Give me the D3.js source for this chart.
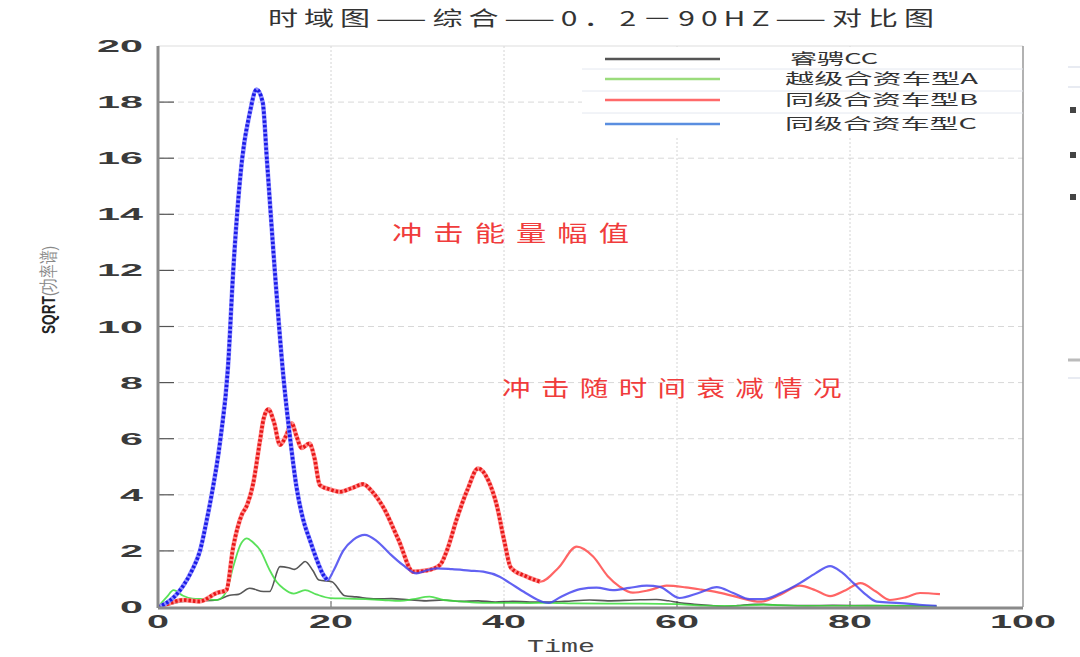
<!DOCTYPE html>
<html>
<head>
<meta charset="utf-8">
<script src="https://cdn.jsdelivr.net/npm/d3@7"></script>
<style>
body { margin: 0; background: #fff; }
svg { display: block; }
</style>
</head>
<body>
<svg id="chart" width="1080" height="657"></svg>
<script>
var width = 1080, height = 657

// series: time points and values
var tC = [0,1,2,2.9,4,4.85,5.7,6.2,7.2,8.1,8.7,9.7,10.6,11.4,12.1,12.6,13.5,14.5,15.3,16.0,16.8,17.6,18.4,19.1,19.6,20.3,21.4,22.6,23.9,25.3,26.8,28.3,29.9,31,32.2,34,36,37.6,39.5,40.7,42.5,44.5,45.2,46.5,48.8,50.7,52.6,54.5,56.5,58.0,60.3,62.5,64.6,66.5,68.4,70,72,74.2,76,77.7,79,80.4,81.8,83.1,85.8,88,90]
var vC = [0,0.15,0.4,0.75,1.35,2.0,3.2,4.0,5.95,8.6,12.0,15.9,17.6,18.45,18.0,15.9,12.0,8.2,5.95,4.3,3.1,2.35,1.65,1.15,0.96,1.3,2.0,2.4,2.57,2.35,1.9,1.5,1.2,1.3,1.38,1.35,1.3,1.26,1.08,0.85,0.5,0.18,0.15,0.35,0.64,0.69,0.6,0.68,0.76,0.72,0.32,0.5,0.71,0.5,0.28,0.28,0.5,0.85,1.2,1.46,1.25,0.85,0.45,0.19,0.14,0.08,0.04]

var tB = [0,1,2.9,4.8,6.8,7.9,8.7,9.7,10.25,11,11.8,12.2,12.75,13.4,14.1,14.8,15.45,16.0,16.6,17.5,18.1,18.7,19.8,21.0,22.5,23.7,24.8,26.0,27.8,29.5,31,32.6,33.5,34.5,35.8,37.0,38.2,39.2,40.0,40.8,42.5,44.2,46.3,48.4,50.3,52,53.4,54.9,56.8,58.8,61,62.8,64.6,67,69.6,72,74.2,76,77.7,79.5,81.2,83,84.6,86.5,88.1,90.4]
var vB = [0,0.1,0.25,0.2,0.5,0.6,2.15,3.3,3.6,4.4,5.95,6.7,7.05,6.6,5.78,6.1,6.55,6.1,5.67,5.83,5.3,4.35,4.2,4.11,4.25,4.38,4.1,3.58,2.4,1.26,1.3,1.5,2.1,3.1,4.2,4.94,4.5,3.58,2.4,1.4,1.1,0.9,1.4,2.15,1.8,1.1,0.72,0.51,0.6,0.76,0.7,0.62,0.53,0.35,0.19,0.45,0.76,0.6,0.39,0.6,0.85,0.55,0.25,0.35,0.5,0.46]

var tA = [0,1,1.8,2.9,4,5.5,6.8,7.9,8.7,9.5,10.25,11,11.8,12.9,13.7,14.5,15.7,17.0,18.3,19.9,22,24,26,28,29.5,31.4,33,35,37.6,40,43,45,48,52,56,60,63,66,70,75,80,85,90]
var vA = [0,0.35,0.6,0.4,0.3,0.28,0.25,0.55,1.44,2.2,2.45,2.3,2.03,1.32,0.9,0.66,0.48,0.6,0.45,0.32,0.3,0.28,0.25,0.22,0.28,0.37,0.25,0.2,0.15,0.15,0.14,0.15,0.13,0.12,0.12,0.1,0.05,0.04,0.08,0.04,0.04,0.05,0.02]

var tCC = [0,1.5,2.9,5,6.8,8.3,9.3,10.6,12.2,12.9,14.1,15.1,15.8,16.5,17.0,17.9,18.6,20.1,21.6,22.9,25.2,27,29,31,33,35,37,39,41,43,45,47,49.9,52,55,57.6,59,60.3,62,64,65.5,67,69,70,72,75,78,82,86,90]
var vCC = [0,0.1,0.2,0.22,0.25,0.42,0.45,0.67,0.55,0.55,1.44,1.4,1.34,1.5,1.62,1.3,0.96,0.9,0.4,0.36,0.29,0.3,0.26,0.22,0.25,0.2,0.22,0.18,0.2,0.18,0.18,0.2,0.25,0.22,0.25,0.27,0.22,0.15,0.1,0.05,0.02,0.05,0.1,0.1,0.06,0.05,0.06,0.05,0.04,0.03]

var names = ["睿骋CC", "越级合资车型A", "同级合资车型B", "同级合资车型C"]
var xTicks = [0, 20, 40, 60, 80, 100]
var yTicks = [0, 2, 4, 6, 8, 10, 12, 14, 16, 18, 20]

var series = [
    {name: names[0], t: tCC, v: vCC, color: "#3a3a3a", key: "#555", w: 1.6},
    {name: names[1], t: tA, v: vA, color: "#3cdc3c", key: "#9bdc7c", w: 1.8},
    {name: names[2], t: tB, v: vB, color: "#ff4a4a", key: "#ff6a6a", w: 2.2, heavyTo: 45, dark: "#e81818", light: "#ff8c8c"},
    {name: names[3], t: tC, v: vC, color: "#4646f0", key: "#5a8ee0", w: 2.2, heavyTo: 20, dark: "#1a1ae8", light: "#8c8cff"}
]

var pLeft = 158, pRight = 1023, pTop = 46, pBottom = 607

var x = d3.scaleLinear().domain([0, 100]).range([pLeft, pRight])
var y = d3.scaleLinear().domain([0, 20]).range([pBottom, pTop])

var svg = d3.select("#chart")

// the picture is stretched sideways, so the texts are too
function stretch(sel, len) {
    return sel.attr("textLength", len).attr("lengthAdjust", "spacingAndGlyphs")
}

// title
stretch(svg.append("text")
    .attr("x", 268).attr("y", 26)
    .attr("font-family", "Noto Sans CJK SC")
    .attr("font-size", 20)
    .attr("letter-spacing", 4)
    .attr("fill", "#333")
    .text("时域图——综合——0．2－90HZ——对比图"), 672)

// grid
var grid = svg.append("g")
grid.selectAll(".hg")
    .data(yTicks.slice(1, -1))
    .enter().append("line")
        .attr("x1", pLeft).attr("x2", pRight)
        .attr("y1", d => y(d)).attr("y2", d => y(d))
        .attr("stroke", "#d8d8d8")
        .attr("stroke-dasharray", "6,4")
grid.selectAll(".vg")
    .data(xTicks.slice(1, -1))
    .enter().append("line")
        .attr("x1", d => x(d)).attr("x2", d => x(d))
        .attr("y1", pTop).attr("y2", pBottom)
        .attr("stroke", "#d4d4d4")
        .attr("stroke-dasharray", "2,2")

// tick marks
svg.append("g").selectAll("line")
    .data(yTicks.slice(1, -1))
    .enter().append("line")
        .attr("x1", pLeft).attr("x2", pLeft + 16)
        .attr("y1", d => y(d)).attr("y2", d => y(d))
        .attr("stroke", "#555").attr("stroke-width", 1.2)
svg.append("g").selectAll("line")
    .data(xTicks.slice(1, -1))
    .enter().append("line")
        .attr("x1", d => x(d)).attr("x2", d => x(d))
        .attr("y1", pBottom).attr("y2", pBottom - 6)
        .attr("stroke", "#777").attr("stroke-width", 1.2)

// frame
svg.append("line").attr("x1", pLeft).attr("x2", pRight).attr("y1", pTop).attr("y2", pTop)
    .attr("stroke", "#ddd")
svg.append("line").attr("x1", pRight).attr("x2", pRight).attr("y1", pTop).attr("y2", pBottom)
    .attr("stroke", "#999").attr("stroke-width", 1.5)

// lines
var line = d3.line()
    .x(d => x(d[0]))
    .y(d => y(d[1]))
    .curve(d3.curveMonotoneX)

var plot = svg.append("g")
series.forEach(function(s) {
    var pts = s.t.map((t, i) => [t, s.v[i]])
    plot.append("path")
        .attr("d", line(pts))
        .attr("fill", "none")
        .attr("stroke", s.color)
        .attr("stroke-width", s.w)
        .attr("stroke-opacity", 0.85)
    if (s.heavyTo) {
        var heavy = pts.filter(d => d[0] <= s.heavyTo)
        plot.append("path")
            .attr("d", line(heavy))
            .attr("fill", "none")
            .attr("stroke", s.light)
            .attr("stroke-width", 4.5)
        plot.append("path")
            .attr("d", line(heavy))
            .attr("fill", "none")
            .attr("stroke", s.dark)
            .attr("stroke-width", 3.6)
            .attr("stroke-dasharray", "2.5,2")
    }
})

// axes lines (thick grey)
svg.append("line").attr("x1", pLeft).attr("x2", pLeft).attr("y1", pTop).attr("y2", pBottom + 1)
    .attr("stroke", "#8a8a8a").attr("stroke-width", 3)
svg.append("line").attr("x1", pLeft).attr("x2", pRight).attr("y1", pBottom + 1).attr("y2", pBottom + 1)
    .attr("stroke", "#8a8a8a").attr("stroke-width", 3)

// tick labels
svg.append("g").selectAll("text")
    .data(yTicks)
    .enter().append("text")
        .attr("x", d => 143 - String(d).length * 23).attr("y", d => y(d) + 6)
        .attr("textLength", d => String(d).length * 23)
        .attr("lengthAdjust", "spacingAndGlyphs")
        .attr("font-family", "Liberation Sans")
        .attr("font-weight", "bold")
        .attr("font-size", 17)
        .attr("fill", "#3a3a3a")
        .text(d => d)
svg.append("g").selectAll("text")
    .data(xTicks)
    .enter().append("text")
        .attr("x", d => x(d) - String(d).length * 11).attr("y", 628)
        .attr("textLength", d => String(d).length * 22)
        .attr("lengthAdjust", "spacingAndGlyphs")
        .attr("font-family", "Liberation Sans")
        .attr("font-weight", "bold")
        .attr("font-size", 18)
        .attr("fill", "#3a3a3a")
        .text(d => d)

// axis titles
stretch(svg.append("text")
    .attr("x", 527).attr("y", 652)
    .attr("font-family", "Liberation Mono")
    .attr("font-size", 18)
    .attr("fill", "#444")
    .text("Time"), 68)

var yl = stretch(svg.append("text")
    .attr("transform", "translate(55,334) rotate(-90)")
    .attr("font-family", "Liberation Sans")
    .attr("font-size", 19)
    .attr("fill", "#222"), 88)
yl.append("tspan").attr("font-weight", "bold").text("SQRT")
yl.append("tspan").attr("fill", "#888").text("(功率谱)")

// annotations
stretch(svg.append("text")
    .attr("x", 392).attr("y", 241)
    .attr("font-family", "Noto Sans CJK SC")
    .attr("font-size", 22)
    .attr("letter-spacing", 8)
    .attr("fill", "#f03c3c")
    .text("冲击能量幅值"), 248)
stretch(svg.append("text")
    .attr("x", 502).attr("y", 396)
    .attr("font-family", "Noto Sans CJK SC")
    .attr("font-size", 22)
    .attr("letter-spacing", 8)
    .attr("fill", "#f03c3c")
    .text("冲击随时间衰减情况"), 350)

// legend
var lg = svg.append("g")
lg.append("rect")
    .attr("x", 582).attr("y", pTop + 1)
    .attr("width", pRight - 582 - 1).attr("height", 89)
    .attr("fill", "#fff")
var rowY = [59, 79, 100, 124]
var textLen = [88, 193, 193, 192]
lg.selectAll(".sep")
    .data([69, 91, 113])
    .enter().append("line")
        .attr("x1", 582).attr("x2", pRight)
        .attr("y1", d => d).attr("y2", d => d)
        .attr("stroke", "#e4e8f0")
var item = lg.selectAll(".item")
    .data(series)
    .enter().append("g")
item.append("line")
    .attr("x1", 605).attr("x2", 720)
    .attr("y1", (d, i) => rowY[i]).attr("y2", (d, i) => rowY[i])
    .attr("stroke", d => d.key)
    .attr("stroke-width", 2.5)
item.append("text")
    .attr("x", (d, i) => i == 0 ? 790 : 785)
    .attr("y", (d, i) => rowY[i] + 5)
    .attr("textLength", (d, i) => textLen[i])
    .attr("lengthAdjust", "spacingAndGlyphs")
    .attr("font-family", "Noto Sans CJK SC")
    .attr("font-size", 15)
    .attr("fill", "#333")
    .text(d => d.name)

// bits cut off at the right edge
var edge = svg.append("g")
edge.selectAll("line")
    .data([67, 87, 360, 378])
    .enter().append("line")
        .attr("x1", 1068).attr("x2", 1080)
        .attr("y1", d => d).attr("y2", d => d)
        .attr("stroke", (d, i) => i == 2 ? "#bbb" : "#e0e4ee")
        .attr("stroke-width", (d, i) => i == 2 ? 3 : 1.5)
edge.selectAll("rect")
    .data([110, 155, 197])
    .enter().append("rect")
        .attr("x", 1070).attr("y", d => d - 3)
        .attr("width", 6).attr("height", 6)
        .attr("fill", "#444")
</script>
</body>
</html>
